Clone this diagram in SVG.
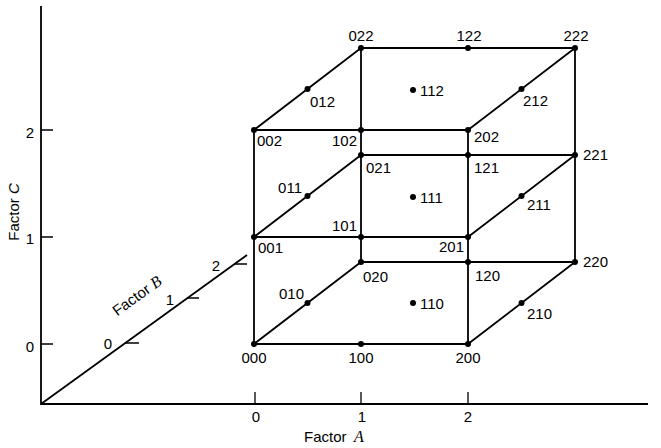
<svg xmlns="http://www.w3.org/2000/svg" width="661" height="448" viewBox="0 0 661 448">
<style>
.ln{stroke:#000;stroke-width:1.8;fill:none;stroke-linecap:round}
.ax{stroke:#000;stroke-width:1.8;fill:none}
.tk{stroke:#000;stroke-width:1.3;fill:none}
.t{font-family:"Liberation Sans",Arial,Helvetica,sans-serif;font-size:15px;fill:#000}
.m{text-anchor:middle}
.e{text-anchor:end}
.it{font-family:"Liberation Serif","Times New Roman",serif;font-style:italic;font-size:16px}
</style>
<defs><circle id="d" r="3" fill="#000"/></defs>
<rect width="661" height="448" fill="#fff"/>
<g id="axes">
<path class="ax" d="M41,6 V404 H648"/>
<path class="ax" d="M41,404 L247,255"/>
<path class="tk" d="M41,130 H53 M41,237 H53 M41,344 H53"/>
<path class="tk" d="M255,392 V404 M361,392 V404 M468,392 V404"/>
<path class="tk" d="M125,343 H139 M187,298 H199 M235,264 H247"/>
<text class="t m" x="30" y="138">2</text>
<text class="t m" x="30" y="244">1</text>
<text class="t m" x="30" y="352">0</text>
<text class="t m" x="256" y="422">0</text>
<text class="t m" x="362" y="422">1</text>
<text class="t m" x="468" y="422">2</text>
<text class="t m" x="108" y="349">0</text>
<text class="t m" x="170" y="305">1</text>
<text class="t m" x="216" y="271">2</text>
<text class="t" x="304" y="442">Factor <tspan class="it" x="354">A</tspan></text>
<text class="t m" transform="translate(140,300) rotate(-36)">Factor <tspan class="it">B</tspan></text>
<text class="t m" transform="translate(19,212) rotate(-90)">Factor <tspan font-style="italic">C</tspan></text>
</g>
<g id="connectors">
<path class="ln" d="M254,344 H468 M254,237 H468 M254,130 H468 M361,262 H575 M361,155 H575 M361,48 H575"/>
<path class="ln" d="M254,344 V130 M361,262 V48 M468,344 V130 M575,262 V48"/>
<path class="ln" d="M254,344 L361,262 M254,237 L361,155 M254,130 L361,48 M468,344 L575,262 M468,237 L575,155 M468,130 L575,48"/>
</g>
<g id="n000"><use href="#d" x="254" y="344"/><text class="t m" x="254" y="363">000</text></g>
<g id="n100"><use href="#d" x="361" y="344"/><text class="t m" x="361" y="363">100</text></g>
<g id="n200"><use href="#d" x="468" y="344"/><text class="t m" x="468" y="363">200</text></g>
<g id="n001"><use href="#d" x="254" y="237"/><text class="t" x="258" y="253">001</text></g>
<g id="n101"><use href="#d" x="361" y="237"/><text class="t e" x="357" y="231">101</text></g>
<g id="n201"><use href="#d" x="468" y="237"/><text class="t e" x="464" y="252">201</text></g>
<g id="n002"><use href="#d" x="254" y="130"/><text class="t" x="257" y="146">002</text></g>
<g id="n102"><use href="#d" x="361" y="130"/><text class="t e" x="357" y="146">102</text></g>
<g id="n202"><use href="#d" x="468" y="130"/><text class="t" x="474" y="142">202</text></g>
<g id="n010"><use href="#d" x="307.5" y="303"/><text class="t e" x="304" y="299">010</text></g>
<g id="n110"><use href="#d" x="413" y="303"/><text class="t" x="420" y="309">110</text></g>
<g id="n210"><use href="#d" x="521.5" y="303"/><text class="t" x="527" y="319">210</text></g>
<g id="n011"><use href="#d" x="307.5" y="196"/><text class="t e" x="302" y="193">011</text></g>
<g id="n111"><use href="#d" x="413" y="197"/><text class="t" x="420" y="203">111</text></g>
<g id="n211"><use href="#d" x="521.5" y="196"/><text class="t" x="527" y="210">211</text></g>
<g id="n012"><use href="#d" x="307.5" y="89"/><text class="t" x="310" y="107">012</text></g>
<g id="n112"><use href="#d" x="413" y="90"/><text class="t" x="420" y="96">112</text></g>
<g id="n212"><use href="#d" x="521.5" y="89"/><text class="t" x="523" y="106">212</text></g>
<g id="n020"><use href="#d" x="361" y="262"/><text class="t" x="363" y="282">020</text></g>
<g id="n120"><use href="#d" x="468" y="262"/><text class="t" x="475" y="281">120</text></g>
<g id="n220"><use href="#d" x="575" y="262"/><text class="t" x="583" y="267">220</text></g>
<g id="n021"><use href="#d" x="361" y="155"/><text class="t" x="366" y="173">021</text></g>
<g id="n121"><use href="#d" x="468" y="155"/><text class="t" x="474" y="173">121</text></g>
<g id="n221"><use href="#d" x="575" y="155"/><text class="t" x="583" y="160">221</text></g>
<g id="n022"><use href="#d" x="361" y="48"/><text class="t m" x="361" y="41">022</text></g>
<g id="n122"><use href="#d" x="468" y="48"/><text class="t m" x="469" y="41">122</text></g>
<g id="n222"><use href="#d" x="575" y="48"/><text class="t m" x="576" y="41">222</text></g>
</svg>
